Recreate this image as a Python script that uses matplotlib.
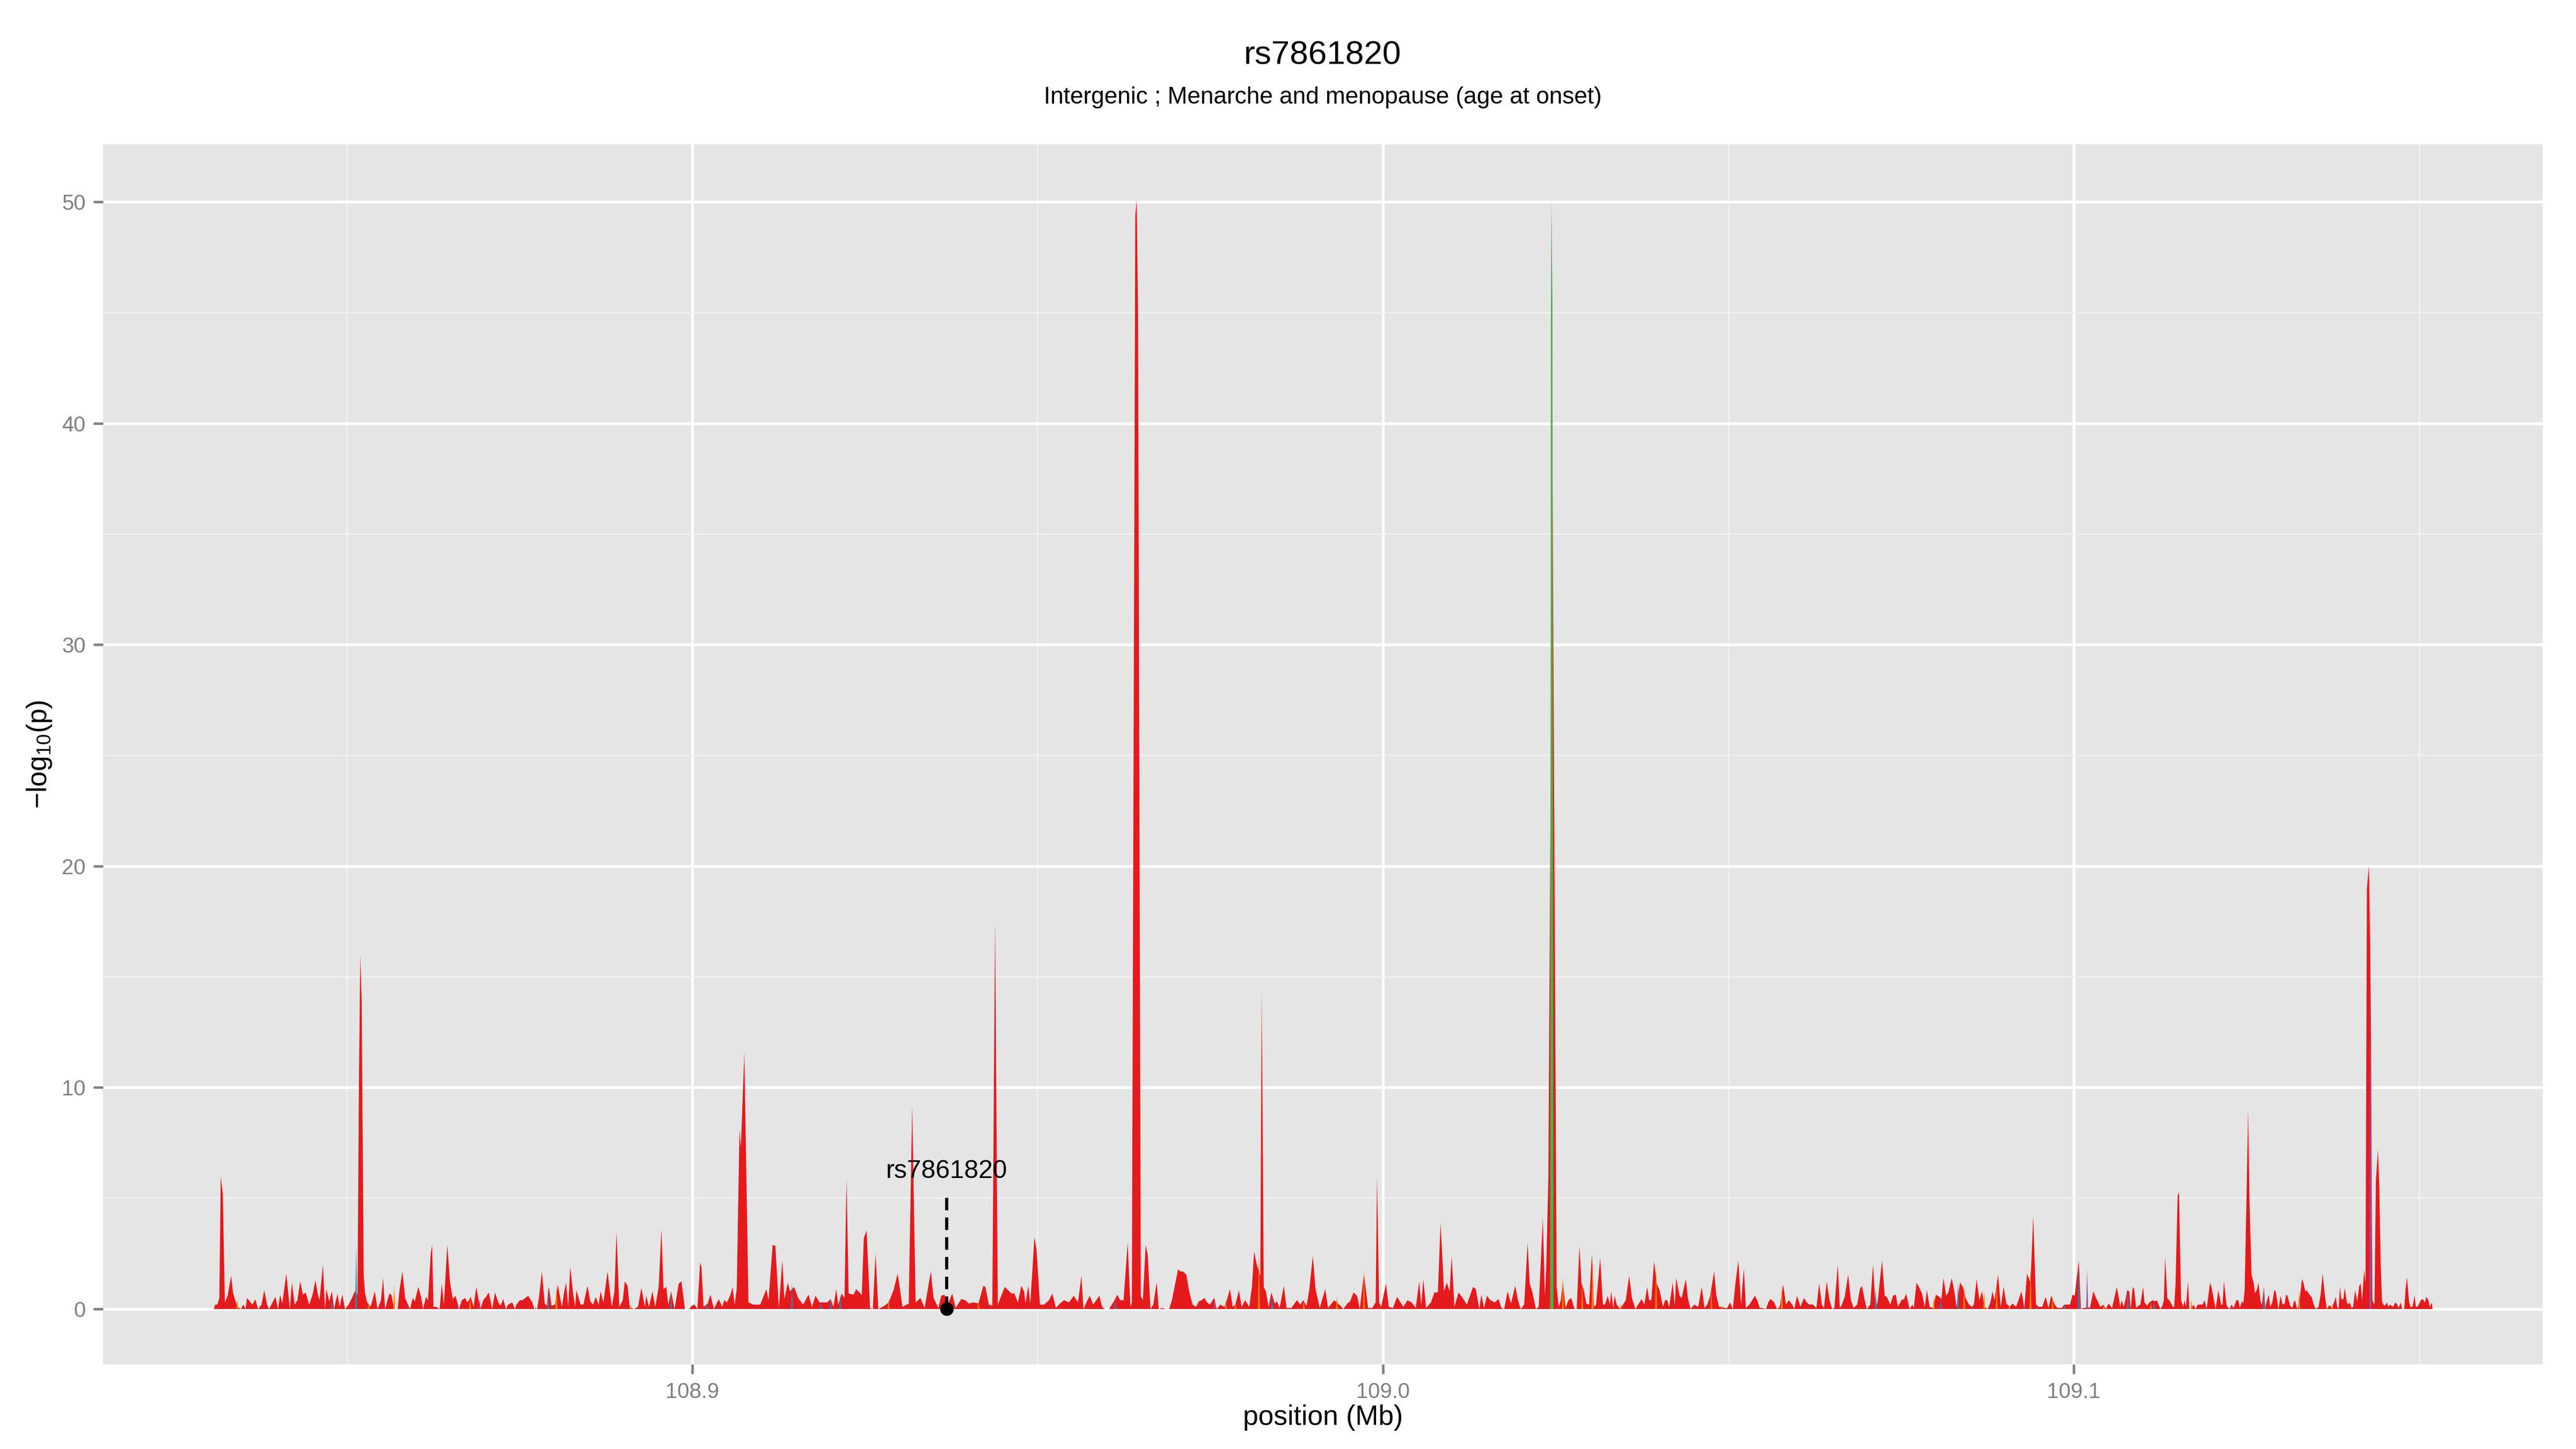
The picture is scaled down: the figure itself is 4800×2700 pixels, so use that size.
import matplotlib.pyplot as plt

# Fonts: Helvetica-like face for everything, incl. the math subscript.
plt.rcParams["font.family"] = ["Liberation Sans", "DejaVu Sans"]
plt.rcParams["mathtext.fontset"] = "custom"
plt.rcParams["mathtext.rm"] = "Liberation Sans"
plt.rcParams["mathtext.default"] = "regular"

# Colours of the series (Set1 palette).
RED = "#E41A1C"
ORANGE = "#FF7F00"
BLUE = "#377EB8"
PURPLE = "#984EA3"
GREEN = "#4DAF4A"

# Main series: (position in Mb, -log10(p)).
red_points = [
    (108.8307, 0.0), (108.8309, 0.2), (108.8312, 0.2), (108.8315, 0.5), (108.8317, 6.0),
    (108.8320, 5.2), (108.8323, 0.3), (108.8327, 0.6), (108.8332, 1.5), (108.8335, 0.7),
    (108.8338, 0.4), (108.8341, 0.1), (108.8346, 0.0), (108.8350, 0.2), (108.8353, 0.0),
    (108.8355, 0.5), (108.8359, 0.35), (108.8363, 0.2), (108.8367, 0.45), (108.8371, 0.0),
    (108.8376, 0.2), (108.8380, 0.85), (108.8384, 0.2), (108.8387, 0.0), (108.8392, 0.3),
    (108.8396, 0.55), (108.8400, 0.0), (108.8403, 0.65), (108.8406, 0.25), (108.8412, 1.6),
    (108.8417, 0.0), (108.8420, 1.2), (108.8424, 0.2), (108.8428, 0.4), (108.8432, 1.25),
    (108.8436, 0.65), (108.8440, 0.75), (108.8445, 0.2), (108.8450, 0.65), (108.8454, 1.3),
    (108.8458, 0.6), (108.8460, 0.4), (108.8465, 2.0), (108.8468, 0.0), (108.8470, 0.9),
    (108.8474, 0.35), (108.8478, 0.8), (108.8481, 0.0), (108.8486, 0.7), (108.8489, 0.1),
    (108.8493, 0.65), (108.8497, 0.0), (108.8502, 0.2), (108.8507, 0.5), (108.8511, 0.8),
    (108.8515, 0.65), (108.8517, 10.0), (108.8519, 16.0), (108.8521, 14.0), (108.8524, 1.5),
    (108.8526, 0.7), (108.8529, 0.3), (108.8534, 0.1), (108.8540, 0.8), (108.8544, 0.0),
    (108.8549, 0.4), (108.8552, 1.4), (108.8555, 0.0), (108.8561, 0.7), (108.8564, 0.65),
    (108.8568, 0.0), (108.8573, 0.0), (108.8576, 0.9), (108.8580, 1.7), (108.8584, 0.5),
    (108.8588, 0.2), (108.8591, 0.0), (108.8595, 0.5), (108.8598, 0.35), (108.8603, 1.0),
    (108.8607, 0.55), (108.8610, 0.0), (108.8614, 0.55), (108.8617, 0.4), (108.8621, 2.5),
    (108.8623, 2.9), (108.8625, 0.1), (108.8629, 0.1), (108.8634, 0.0), (108.8637, 1.15),
    (108.8640, 0.2), (108.8645, 2.9), (108.8649, 1.2), (108.8653, 0.45), (108.8657, 0.6),
    (108.8662, 0.0), (108.8666, 0.4), (108.8671, 0.5), (108.8674, 0.3), (108.8679, 0.55),
    (108.8683, 0.1), (108.8687, 1.0), (108.8691, 0.3), (108.8693, 0.0), (108.8697, 0.4),
    (108.8701, 0.55), (108.8705, 0.75), (108.8710, 0.0), (108.8714, 0.75), (108.8719, 0.3),
    (108.8722, 0.15), (108.8726, 0.45), (108.8730, 0.0), (108.8733, 0.2), (108.8739, 0.3),
    (108.8743, 0.0), (108.8745, 0.2), (108.8750, 0.4), (108.8754, 0.4), (108.8762, 0.6),
    (108.8768, 0.3), (108.8771, 0.0), (108.8775, 0.0), (108.8778, 0.6), (108.8782, 1.7),
    (108.8786, 0.25), (108.8789, 0.15), (108.8792, 1.0), (108.8796, 0.15), (108.8801, 0.2),
    (108.8805, 1.1), (108.8809, 0.4), (108.8811, 0.1), (108.8814, 0.75), (108.8817, 1.2),
    (108.8820, 0.1), (108.8823, 1.9), (108.8827, 0.75), (108.8830, 0.1), (108.8832, 0.85),
    (108.8838, 0.2), (108.8842, 0.2), (108.8848, 1.05), (108.8852, 0.35), (108.8856, 0.2),
    (108.8860, 0.55), (108.8864, 0.2), (108.8867, 0.8), (108.8871, 0.3), (108.8877, 1.7),
    (108.8883, 0.1), (108.8887, 0.8), (108.8890, 3.5), (108.8894, 0.1), (108.8899, 0.4),
    (108.8902, 1.25), (108.8906, 1.05), (108.8909, 0.1), (108.8915, 0.0), (108.8921, 0.1),
    (108.8926, 0.95), (108.8931, 0.1), (108.8933, 0.6), (108.8937, 0.1), (108.8942, 0.8),
    (108.8946, 0.1), (108.8951, 1.0), (108.8955, 3.6), (108.8958, 0.9), (108.8962, 1.0),
    (108.8965, 0.2), (108.8969, 0.8), (108.8974, 0.0), (108.8980, 1.15), (108.8984, 1.25),
    (108.8989, 0.0), (108.8995, 0.0), (108.8999, 0.15), (108.9003, 0.2), (108.9007, 0.0),
    (108.9011, 2.1), (108.9013, 1.9), (108.9016, 0.1), (108.9022, 0.25), (108.9026, 0.65),
    (108.9031, 0.0), (108.9034, 0.2), (108.9038, 0.45), (108.9043, 0.1), (108.9046, 0.4),
    (108.9050, 0.3), (108.9055, 0.65), (108.9058, 1.0), (108.9061, 0.2), (108.9064, 0.9),
    (108.9068, 8.1), (108.9070, 7.3), (108.9075, 11.6), (108.9081, 0.3), (108.9088, 0.2),
    (108.9098, 0.2), (108.9107, 0.9), (108.9110, 0.4), (108.9116, 2.9), (108.9120, 2.85),
    (108.9125, 0.05), (108.9130, 2.2), (108.9133, 0.45), (108.9138, 1.2), (108.9141, 0.8),
    (108.9147, 1.0), (108.9153, 0.5), (108.9160, 0.2), (108.9168, 0.65), (108.9173, 0.1),
    (108.9178, 0.6), (108.9184, 0.3), (108.9195, 0.3), (108.9200, 0.45), (108.9204, 0.1),
    (108.9208, 0.9), (108.9211, 0.2), (108.9216, 0.7), (108.9220, 0.5), (108.9223, 5.9),
    (108.9226, 0.7), (108.9233, 0.65), (108.9237, 0.9), (108.9240, 0.8), (108.9245, 0.65),
    (108.9248, 3.2), (108.9252, 3.55), (108.9257, 0.05), (108.9261, 0.0), (108.9265, 2.5),
    (108.9269, 0.0), (108.9278, 0.15), (108.9284, 0.3), (108.9291, 0.85), (108.9297, 1.6),
    (108.9304, 0.1), (108.9313, 0.25), (108.9318, 9.2), (108.9323, 0.3), (108.9330, 0.5),
    (108.9336, 0.05), (108.9345, 1.7), (108.9349, 0.5), (108.9356, 0.05), (108.9360, 0.6),
    (108.9365, 0.65), (108.9368, 0.1), (108.9376, 0.7), (108.9381, 0.05), (108.9386, 0.3),
    (108.9389, 0.45), (108.9395, 0.4), (108.9400, 0.25), (108.9407, 0.3), (108.9414, 0.25),
    (108.9421, 1.05), (108.9424, 1.0), (108.9429, 0.2), (108.9434, 0.15), (108.9438, 17.5),
    (108.9442, 0.2), (108.9452, 1.0), (108.9457, 0.85), (108.9462, 0.7), (108.9466, 0.7),
    (108.9471, 0.3), (108.9476, 1.05), (108.9480, 0.8), (108.9482, 0.25), (108.9486, 1.05),
    (108.9489, 0.25), (108.9495, 3.25), (108.9498, 2.7), (108.9503, 0.2), (108.9509, 0.2),
    (108.9516, 0.4), (108.9521, 0.7), (108.9526, 0.05), (108.9532, 0.25), (108.9538, 0.4),
    (108.9545, 0.3), (108.9552, 0.6), (108.9558, 0.3), (108.9563, 1.5), (108.9566, 0.0),
    (108.9571, 0.35), (108.9575, 0.6), (108.9580, 0.2), (108.9589, 0.6), (108.9593, 0.1),
    (108.9597, 0.0), (108.9603, 0.0), (108.9611, 0.4), (108.9615, 0.65), (108.9619, 0.4),
    (108.9624, 0.4), (108.9630, 3.0), (108.9634, 0.1), (108.9636, 0.3), (108.9641, 49.4),
    (108.9643, 50.1), (108.9645, 45.0), (108.9649, 0.6), (108.9652, 0.4), (108.9656, 2.9),
    (108.9659, 2.45), (108.9663, 0.0), (108.9667, 0.2), (108.9672, 1.2), (108.9675, 0.0),
    (108.9680, 0.05), (108.9685, 0.0), (108.9690, 0.0), (108.9694, 0.4), (108.9703, 1.8),
    (108.9706, 1.7), (108.9710, 1.7), (108.9715, 1.55), (108.9719, 0.8), (108.9724, 0.2),
    (108.9729, 0.1), (108.9733, 0.35), (108.9737, 0.4), (108.9741, 0.5), (108.9745, 0.3),
    (108.9749, 0.2), (108.9755, 0.5), (108.9759, 0.0), (108.9764, 0.2), (108.9770, 0.1),
    (108.9774, 0.45), (108.9778, 0.9), (108.9782, 0.1), (108.9786, 0.2), (108.9791, 0.85),
    (108.9795, 0.1), (108.9800, 0.4), (108.9806, 0.1), (108.9810, 1.05), (108.9813, 2.6),
    (108.9817, 2.0), (108.9822, 1.5), (108.9824, 14.3), (108.9827, 1.0), (108.9830, 0.8),
    (108.9834, 0.1), (108.9838, 0.75), (108.9843, 0.25), (108.9846, 0.35), (108.9850, 0.05),
    (108.9856, 1.05), (108.9860, 0.05), (108.9867, 0.05), (108.9875, 0.4), (108.9880, 0.2),
    (108.9884, 0.4), (108.9889, 0.15), (108.9893, 0.9), (108.9898, 2.4), (108.9902, 0.9),
    (108.9908, 0.05), (108.9916, 0.9), (108.9920, 0.05), (108.9929, 0.4), (108.9938, 0.15),
    (108.9942, 0.0), (108.9948, 0.25), (108.9952, 0.35), (108.9957, 0.75), (108.9962, 0.6),
    (108.9966, 0.0), (108.9972, 1.6), (108.9978, 0.05), (108.9984, 0.05), (108.9989, 0.3),
    (108.9991, 6.0), (108.9994, 0.3), (108.9997, 0.1), (109.0004, 1.15), (109.0008, 0.1),
    (109.0014, 0.05), (109.0020, 0.55), (109.0024, 0.35), (109.0029, 0.1), (109.0035, 0.4),
    (109.0041, 0.3), (109.0047, 0.05), (109.0052, 1.25), (109.0055, 0.2), (109.0058, 1.35),
    (109.0062, 0.05), (109.0069, 0.3), (109.0074, 0.75), (109.0079, 0.75), (109.0083, 3.9),
    (109.0088, 0.8), (109.0092, 1.2), (109.0096, 0.8), (109.0099, 2.4), (109.0103, 0.1),
    (109.0109, 0.75), (109.0115, 0.5), (109.0121, 0.2), (109.0130, 1.0), (109.0134, 0.9),
    (109.0139, 0.0), (109.0142, 0.65), (109.0146, 0.05), (109.0150, 0.6), (109.0155, 0.4),
    (109.0161, 0.3), (109.0167, 0.45), (109.0171, 0.05), (109.0175, 0.0), (109.0180, 0.8),
    (109.0185, 0.25), (109.0191, 1.05), (109.0195, 0.4), (109.0199, 0.0), (109.0204, 0.2),
    (109.0209, 3.0), (109.0212, 1.15), (109.0216, 0.75), (109.0221, 0.0), (109.0225, 0.1),
    (109.0231, 4.1), (109.0234, 0.6), (109.0236, 1.9), (109.0239, 6.0), (109.0245, 38.0),
    (109.0251, 1.0), (109.0254, 0.1), (109.0257, 0.4), (109.0260, 1.2), (109.0264, 0.05),
    (109.0268, 0.4), (109.0272, 0.5), (109.0277, 0.0), (109.0280, 0.0), (109.0284, 2.85),
    (109.0287, 1.15), (109.0290, 0.9), (109.0294, 0.25), (109.0298, 0.2), (109.0302, 2.5),
    (109.0305, 0.1), (109.0308, 0.2), (109.0314, 2.3), (109.0318, 0.2), (109.0321, 0.2),
    (109.0325, 0.6), (109.0328, 0.2), (109.0330, 0.8), (109.0333, 0.05), (109.0335, 0.6),
    (109.0338, 0.2), (109.0343, 0.0), (109.0347, 0.2), (109.0351, 0.4), (109.0356, 1.5),
    (109.0360, 0.5), (109.0365, 0.0), (109.0369, 0.2), (109.0374, 0.45), (109.0378, 0.2),
    (109.0382, 1.0), (109.0385, 0.4), (109.0388, 0.4), (109.0392, 2.15), (109.0396, 1.15),
    (109.0400, 0.85), (109.0405, 0.1), (109.0408, 0.4), (109.0411, 0.4), (109.0414, 0.1),
    (109.0419, 1.2), (109.0422, 0.15), (109.0424, 1.4), (109.0429, 0.6), (109.0432, 0.5),
    (109.0438, 1.35), (109.0441, 0.5), (109.0445, 0.0), (109.0450, 0.2), (109.0456, 0.1),
    (109.0461, 1.0), (109.0465, 0.05), (109.0469, 0.2), (109.0473, 0.55), (109.0479, 1.7),
    (109.0482, 0.65), (109.0486, 0.1), (109.0490, 0.1), (109.0494, 0.05), (109.0498, 0.05),
    (109.0502, 0.3), (109.0506, 0.0), (109.0510, 1.2), (109.0514, 2.2), (109.0518, 0.2),
    (109.0522, 1.85), (109.0525, 0.05), (109.0530, 0.2), (109.0534, 0.4), (109.0538, 0.6),
    (109.0542, 0.35), (109.0545, 0.05), (109.0549, 0.05), (109.0554, 0.0), (109.0558, 0.35),
    (109.0561, 0.45), (109.0566, 0.3), (109.0570, 0.0), (109.0574, 0.1), (109.0579, 1.1),
    (109.0583, 0.2), (109.0587, 0.4), (109.0592, 0.2), (109.0595, 0.0), (109.0599, 0.6),
    (109.0604, 0.1), (109.0609, 0.5), (109.0613, 0.3), (109.0617, 0.2), (109.0622, 0.2),
    (109.0627, 0.05), (109.0631, 1.15), (109.0635, 0.2), (109.0638, 0.05), (109.0642, 1.25),
    (109.0646, 0.4), (109.0650, 0.0), (109.0653, 0.05), (109.0658, 2.0), (109.0661, 0.05),
    (109.0664, 0.2), (109.0668, 0.55), (109.0673, 1.55), (109.0677, 0.4), (109.0681, 0.05),
    (109.0686, 0.2), (109.0690, 0.9), (109.0693, 1.05), (109.0697, 0.4), (109.0700, 0.0),
    (109.0705, 0.2), (109.0709, 2.0), (109.0713, 0.0), (109.0716, 0.4), (109.0722, 2.2),
    (109.0726, 0.6), (109.0729, 0.55), (109.0734, 0.2), (109.0738, 0.6), (109.0742, 0.65),
    (109.0745, 0.1), (109.0750, 0.4), (109.0754, 0.45), (109.0757, 0.7), (109.0762, 0.0),
    (109.0766, 0.2), (109.0768, 0.05), (109.0772, 1.2), (109.0777, 0.9), (109.0780, 0.7),
    (109.0784, 0.1), (109.0787, 0.85), (109.0791, 0.1), (109.0796, 0.05), (109.0800, 0.65),
    (109.0805, 0.55), (109.0808, 0.45), (109.0811, 1.4), (109.0815, 0.6), (109.0818, 0.75),
    (109.0823, 1.4), (109.0827, 0.75), (109.0830, 0.1), (109.0835, 1.2), (109.0839, 1.0),
    (109.0843, 0.5), (109.0848, 0.2), (109.0852, 0.1), (109.0855, 0.2), (109.0859, 1.35),
    (109.0863, 0.4), (109.0867, 0.8), (109.0870, 0.1), (109.0875, 0.0), (109.0879, 0.3),
    (109.0882, 0.8), (109.0885, 0.4), (109.0890, 1.55), (109.0894, 0.1), (109.0898, 1.0),
    (109.0902, 0.25), (109.0907, 0.1), (109.0911, 0.25), (109.0916, 0.1), (109.0919, 0.35),
    (109.0924, 0.8), (109.0928, 0.05), (109.0932, 1.6), (109.0937, 1.2), (109.0941, 4.2),
    (109.0945, 0.2), (109.0949, 0.1), (109.0954, 0.1), (109.0959, 0.55), (109.0963, 0.05),
    (109.0967, 0.6), (109.0972, 0.2), (109.0976, 0.05), (109.0982, 0.05), (109.0986, 0.2),
    (109.0991, 0.2), (109.0994, 0.2), (109.0998, 0.65), (109.1001, 0.6), (109.1007, 2.2),
    (109.1010, 0.0), (109.1013, 0.05), (109.1016, 0.05), (109.1019, 0.1), (109.1023, 0.05),
    (109.1028, 0.8), (109.1032, 0.5), (109.1038, 0.1), (109.1043, 0.2), (109.1046, 0.0),
    (109.1050, 0.25), (109.1055, 0.05), (109.1062, 1.0), (109.1067, 0.1), (109.1069, 0.4),
    (109.1072, 0.1), (109.1075, 0.5), (109.1077, 0.85), (109.1080, 0.8), (109.1082, 0.0),
    (109.1085, 1.0), (109.1087, 0.9), (109.1090, 0.05), (109.1093, 0.15), (109.1096, 0.2),
    (109.1100, 1.0), (109.1102, 0.3), (109.1106, 0.15), (109.1109, 0.3), (109.1114, 0.4),
    (109.1117, 0.35), (109.1120, 0.4), (109.1125, 0.0), (109.1128, 0.15), (109.1130, 0.4),
    (109.1132, 2.35), (109.1135, 0.5), (109.1139, 0.35), (109.1143, 0.1), (109.1145, 0.1),
    (109.1147, 1.15), (109.1150, 5.1), (109.1152, 5.3), (109.1155, 0.4), (109.1158, 0.1),
    (109.1160, 0.4), (109.1162, 0.1), (109.1165, 1.25), (109.1167, 0.0), (109.1170, 0.0),
    (109.1173, 0.2), (109.1176, 0.0), (109.1179, 0.2), (109.1183, 0.2), (109.1186, 0.2),
    (109.1189, 0.4), (109.1192, 0.0), (109.1197, 1.2), (109.1199, 1.0), (109.1205, 0.0),
    (109.1209, 0.85), (109.1213, 0.2), (109.1215, 0.2), (109.1217, 1.25), (109.1221, 0.15),
    (109.1225, 0.0), (109.1228, 0.2), (109.1231, 0.05), (109.1235, 0.4), (109.1238, 0.4),
    (109.1240, 0.05), (109.1243, 0.35), (109.1245, 0.25), (109.1247, 0.85), (109.1250, 5.5),
    (109.1252, 9.0), (109.1254, 5.0), (109.1257, 1.55), (109.1260, 1.2), (109.1262, 0.7),
    (109.1265, 0.9), (109.1267, 1.2), (109.1270, 0.35), (109.1272, 0.2), (109.1275, 1.0),
    (109.1277, 0.05), (109.1279, 0.35), (109.1282, 0.65), (109.1284, 0.1), (109.1287, 0.3),
    (109.1290, 0.85), (109.1292, 0.8), (109.1296, 0.0), (109.1299, 0.6), (109.1302, 0.2),
    (109.1305, 0.25), (109.1307, 0.65), (109.1309, 0.6), (109.1313, 0.15), (109.1316, 0.05),
    (109.1318, 0.3), (109.1320, 0.4), (109.1323, 0.0), (109.1326, 0.25), (109.1328, 0.8),
    (109.1330, 1.35), (109.1332, 1.2), (109.1335, 0.8), (109.1337, 0.85), (109.1340, 0.7),
    (109.1342, 0.6), (109.1344, 0.55), (109.1347, 0.2), (109.1350, 0.0), (109.1354, 0.1),
    (109.1357, 0.65), (109.1360, 1.6), (109.1363, 0.65), (109.1366, 0.0), (109.1369, 0.15),
    (109.1371, 0.15), (109.1373, 0.05), (109.1377, 0.35), (109.1379, 0.55), (109.1381, 0.1),
    (109.1383, 0.0), (109.1385, 1.0), (109.1387, 0.45), (109.1390, 0.45), (109.1392, 0.95),
    (109.1395, 0.3), (109.1397, 0.2), (109.1399, 0.3), (109.1402, 0.05), (109.1404, 0.1),
    (109.1407, 0.85), (109.1410, 0.35), (109.1413, 1.05), (109.1415, 1.15), (109.1417, 0.4),
    (109.1420, 1.75), (109.1422, 1.2), (109.1424, 19.0), (109.1426, 19.7), (109.1427, 20.0),
    (109.1430, 12.8), (109.1431, 4.8), (109.1432, 0.4), (109.1435, 0.2), (109.1437, 5.8),
    (109.1440, 7.2), (109.1442, 5.5), (109.1444, 2.0), (109.1446, 0.3), (109.1448, 0.2),
    (109.1450, 0.15), (109.1453, 0.3), (109.1455, 0.1), (109.1457, 0.2), (109.1460, 0.15),
    (109.1462, 0.1), (109.1465, 0.3), (109.1468, 0.2), (109.1470, 0.05), (109.1473, 0.3),
    (109.1475, 0.0), (109.1478, 0.0), (109.1480, 0.9), (109.1482, 1.45), (109.1485, 0.35),
    (109.1487, 0.1), (109.1490, 0.1), (109.1493, 0.6), (109.1495, 0.1), (109.1497, 0.1),
    (109.1499, 0.2), (109.1502, 0.4), (109.1505, 0.45), (109.1508, 0.3), (109.1510, 0.55),
    (109.1513, 0.4), (109.1515, 0.1), (109.1518, 0.3), (109.1519, 0.0),
]

# Sparse series: single SNP peaks (position in Mb, -log10(p)).
orange_points = [
    (108.8341, 0.45), (108.8531, 0.3), (108.8568, 1.1), (108.8678, 0.55), (108.8803, 1.1),
    (108.8910, 0.2), (108.9284, 0.45), (108.9414, 0.3), (108.9772, 0.4), (108.9786, 0.3),
    (108.9820, 2.6), (108.9885, 0.45), (108.9933, 0.6), (108.9972, 1.8), (109.0260, 1.5),
    (109.0277, 0.05), (109.0288, 1.2), (109.0303, 2.3), (109.0344, 0.25), (109.0395, 2.0),
    (109.0475, 0.9), (109.0490, 0.15), (109.0577, 1.1), (109.0797, 0.55), (109.0841, 1.1),
    (109.0870, 0.8), (109.0888, 1.2), (109.0906, 0.2), (109.0937, 1.9), (109.0969, 0.6),
    (109.1043, 0.2), (109.1111, 0.3), (109.1170, 0.4), (109.1326, 0.85), (109.1374, 0.25),
]
blue_points = [
    (108.8478, 0.4), (108.8513, 2.85), (108.8660, 0.1), (108.8773, 0.1), (108.8791, 1.0),
    (108.8969, 0.8), (108.9021, 0.25), (108.9144, 1.2), (108.9186, 0.3), (108.9200, 0.5),
    (108.9214, 0.65), (108.9612, 0.4), (108.9839, 0.6), (109.0713, 0.9), (109.0807, 0.45),
    (109.0832, 1.2), (109.0852, 0.1), (109.0928, 0.1), (109.0946, 0.1), (109.0986, 0.2),
    (109.1007, 2.1), (109.1078, 0.85), (109.1116, 0.4), (109.1275, 1.0), (109.1351, 0.05),
]
purple_points = [
    (108.8692, 0.5), (108.9371, 0.4), (108.9756, 0.5), (109.1019, 1.8), (109.1429, 19.8),
]
# Green series: one narrow column of neighbouring SNPs (full profile).
green_profile = [
    (109.02415, 0.0), (109.02427, 45.0), (109.02435, 50.1), (109.02449, 45.5), (109.02464, 0.0),
]

# Highlighted SNP.
snp_name = "rs7861820"
snp_pos = 108.9368
snp_line_top = 5.0
snp_label_y = 5.9

x_ticks = [108.9, 109.0, 109.1]
x_minor = [108.85, 108.95, 109.05, 109.15]
y_ticks = [0, 10, 20, 30, 40, 50]
y_minor = [5, 15, 25, 35, 45]


def spikes(points, half):
    # each sparse SNP drawn as a narrow peak from the baseline
    xs, ys = [], []
    for p, v in points:
        xs += [p - half, p, p + half]
        ys += [0.0, v, 0.0]
    return xs, ys


fig = plt.figure(figsize=(16, 9), dpi=300)
ax = fig.add_axes([0.04, 0.0585, 0.9471, 0.8419])
ax.set_facecolor("#E5E5E5")
for s in ax.spines.values():
    s.set_visible(False)

# Area layers.
rx, ry = zip(*red_points)
ax.fill_between(rx, ry, 0, color=RED, lw=0, zorder=2)
for pts, col in [(orange_points, ORANGE), (blue_points, BLUE), (purple_points, PURPLE)]:
    sx, sy = spikes(pts, 0.00014)
    ax.fill_between(sx, sy, 0, color=col, lw=0, zorder=3)
gx, gy = zip(*green_profile)
ax.fill_between(gx, gy, 0, color=GREEN, lw=0, zorder=3)

# SNP marker, dashed stem and label.
ax.plot([snp_pos, snp_pos], [0, snp_line_top], color="black", lw=1.4,
        ls=(0, (4, 2.3)), zorder=5)
ax.plot([snp_pos], [0], "o", color="black", ms=5, zorder=6)
ax.text(snp_pos, snp_label_y, snp_name, ha="center", va="baseline", fontsize=11.5, zorder=6)

# Scales and grid.
ax.set_xlim(108.8147, 109.1679)
ax.set_ylim(-2.505, 52.6)
ax.set_xticks(x_ticks)
ax.set_xticklabels([f"{t:.1f}" for t in x_ticks])
ax.set_xticks(x_minor, minor=True)
ax.set_yticks(y_ticks)
ax.set_yticks(y_minor, minor=True)
ax.set_axisbelow(True)
ax.grid(which="major", color="white", lw=1.25)
ax.grid(which="minor", color="#F2F2F2", lw=0.6)
ax.tick_params(which="major", colors="#7F7F7F", labelsize=9.6, length=4.3, width=1.1, pad=3.5)
ax.tick_params(which="minor", length=0)

ax.set_xlabel("position (Mb)", fontsize=12.4)
ax.xaxis.set_label_coords(0.5, -0.033)
ax.set_ylabel("\u2212log$_{10}$(p)", fontsize=12.4)
ax.yaxis.set_label_coords(-0.0202, 0.5)

# Titles.
fig.text(0.5135, 0.9559, snp_name, ha="center", va="baseline", fontsize=14.9)
fig.text(0.5135, 0.9285, "Intergenic ; Menarche and menopause (age at onset)",
         ha="center", va="baseline", fontsize=10.6)

fig.savefig("out.png", dpi=300)
